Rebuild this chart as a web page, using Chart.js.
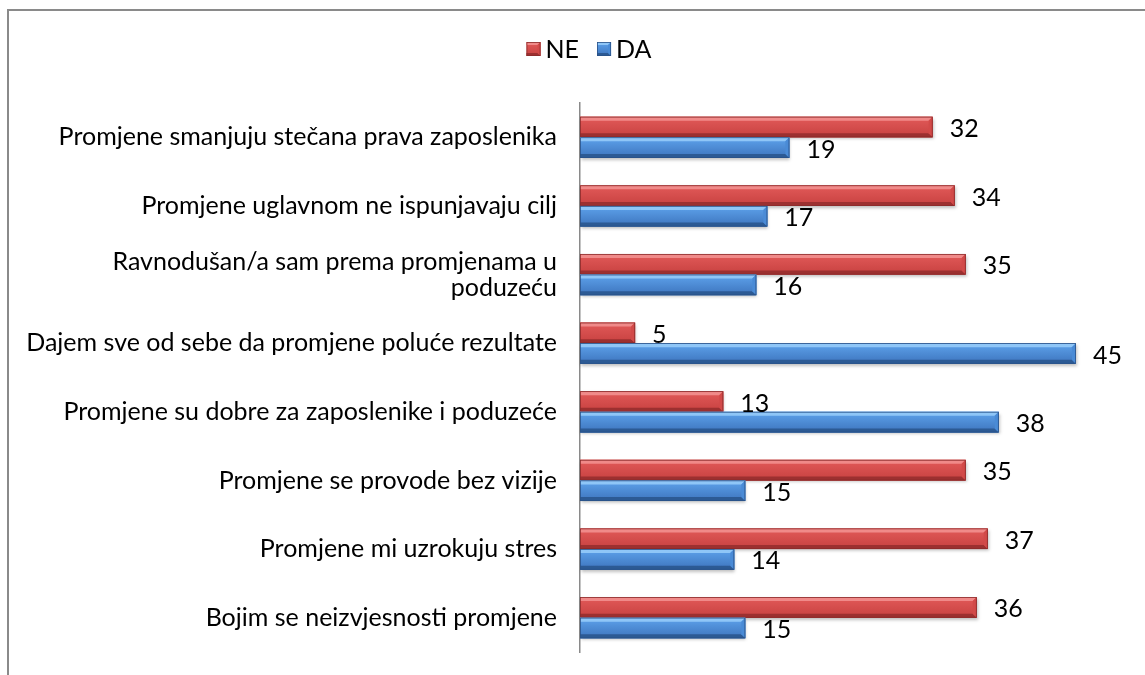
<!DOCTYPE html>
<html>
<head>
<meta charset="utf-8">
<script src="https://cdn.jsdelivr.net/npm/chart.js@4.4.0/dist/chart.umd.min.js"></script>
<style>
  html, body { margin: 0; padding: 0; background: #fff; }
  #wrap { position: relative; width: 1145px; height: 675px; }
  #frame {
    position: absolute; left: 7px; top: 9px; right: 0; bottom: 0;
    border-top: 2px solid #8a8a8a; border-left: 2px solid #8a8a8a;
  }
  canvas { position: absolute; left: 0; top: 0; }
</style>
</head>
<body>
<div id="wrap">
  <div id="frame"></div>
  <canvas id="chart" width="1145" height="675"></canvas>
</div>
<script>
// data
const categories = [
  'Promjene smanjuju stečana prava zaposlenika',
  'Promjene uglavnom ne ispunjavaju cilj',
  ['Ravnodušan/a sam prema promjenama u', 'poduzeću'],
  'Dajem sve od sebe da promjene poluće rezultate',
  'Promjene su dobre za zaposlenike i poduzeće',
  'Promjene se provode bez vizije',
  'Promjene mi uzrokuju stres',
  'Bojim se neizvjesnosti promjene'
];
const seriesNames = ['NE', 'DA'];
const neValues = [32, 34, 35, 5, 13, 35, 37, 36];
const daValues = [19, 17, 16, 45, 38, 15, 14, 15];

const FONT = 'Lato, "Open Sans", sans-serif';
const FONT_SIZE = 25;

const palettes = [
  { base: '#d24a49', hi: '#f08a89', face1: '#e25a59', face2: '#c74140', lo: '#9c3030', edge: '#8a2b2b' },
  { base: '#4a8bd6', hi: '#8fc6f7', face1: '#5ea3ec', face2: '#3d74bd', lo: '#2c5a94', edge: '#2a5288' }
];

function poly(ctx, pts, fill) {
  ctx.beginPath();
  ctx.moveTo(pts[0][0], pts[0][1]);
  for (let i = 1; i < pts.length; i++) ctx.lineTo(pts[i][0], pts[i][1]);
  ctx.closePath();
  ctx.fillStyle = fill;
  ctx.fill();
}

// bevelled box, used for bars and legend swatches
function bevelRect(ctx, left, top, w, h, p, b, shadow) {
  const right = left + w, bot = top + h;
  ctx.save();
  if (shadow) {
    ctx.shadowColor = 'rgba(0,0,0,0.25)';
    ctx.shadowBlur = 3;
    ctx.shadowOffsetX = 1;
    ctx.shadowOffsetY = 2;
  }
  const g = ctx.createLinearGradient(0, top, 0, bot);
  g.addColorStop(0, p.face1);
  g.addColorStop(1, p.face2);
  ctx.fillStyle = g;
  ctx.fillRect(left, top, w, h);
  ctx.restore();

  ctx.save();
  poly(ctx, [[left, top], [right, top], [right - b, top + b], [left, top + b]], p.hi);
  poly(ctx, [[left, bot], [right, bot], [right - b, bot - b], [left, bot - b]], p.lo);
  poly(ctx, [[right, top], [right, bot], [right - b, bot - b], [right - b, top + b]], p.base);
  ctx.strokeStyle = p.edge;
  ctx.lineWidth = 0.8;
  ctx.strokeRect(left + 0.4, top + 0.4, w - 0.8, h - 0.8);
  ctx.restore();
}

const bevelBars = {
  id: 'bevelBars',
  afterDatasetsDraw(chart) {
    const ctx = chart.ctx;
    chart.data.datasets.forEach((ds, i) => {
      const meta = chart.getDatasetMeta(i);
      meta.data.forEach(el => {
        const { x, y, base, height } = el.getProps(['x', 'y', 'base', 'height'], true);
        const left = Math.min(base, x);
        bevelRect(ctx, left, y - height / 2, Math.abs(x - base), height, palettes[i], 4, true);
      });
    });
    // value labels
    ctx.save();
    ctx.font = FONT_SIZE + 'px ' + FONT;
    ctx.fillStyle = '#000';
    ctx.textAlign = 'left';
    ctx.textBaseline = 'middle';
    chart.data.datasets.forEach((ds, i) => {
      const meta = chart.getDatasetMeta(i);
      meta.data.forEach((el, j) => {
        ctx.fillText(String(ds.data[j]), el.x + 17, el.y + 2);
      });
    });
    ctx.restore();
  },
  afterDraw(chart) {
    // legend with bevelled swatches, centred over the plot frame
    const ctx = chart.ctx;
    ctx.save();
    ctx.font = FONT_SIZE + 'px ' + FONT;
    ctx.textBaseline = 'middle';
    ctx.fillStyle = '#000';
    const box = 14, gap = 5, itemGap = 18, cy = 49;
    const widths = seriesNames.map(n => box + gap + ctx.measureText(n).width);
    const total = widths.reduce((a, b) => a + b, 0) + itemGap * (seriesNames.length - 1);
    let x = 589 - total / 2;
    seriesNames.forEach((n, i) => {
      bevelRect(ctx, x, cy - box / 2, box, box, palettes[i], 3, false);
      ctx.fillStyle = '#000';
      ctx.fillText(n, x + box + gap, cy + 1);
      x += widths[i] + itemGap;
    });
    ctx.restore();
  }
};

new Chart(document.getElementById('chart'), {
  type: 'bar',
  data: {
    labels: categories,
    datasets: [
      { label: seriesNames[0], data: neValues, backgroundColor: palettes[0].base },
      { label: seriesNames[1], data: daValues, backgroundColor: palettes[1].base }
    ]
  },
  options: {
    indexAxis: 'y',
    responsive: false,
    animation: false,
    events: [],
    categoryPercentage: 0.6,
    barPercentage: 1.0,
    layout: { padding: { left: 0, right: 14, top: 103, bottom: 23 } },
    plugins: {
      legend: { display: false },
      tooltip: { enabled: false }
    },
    scales: {
      x: {
        min: 0,
        max: 50,
        display: false
      },
      y: {
        afterFit(scale) {
          scale.width = 580;
          scale.paddingTop = 0;
          scale.paddingBottom = 0;
        },
        grid: { display: false, drawTicks: false },
        border: { display: true, color: '#8a8a8a', width: 1.5 },
        ticks: {
          padding: 23,
          color: '#000',
          font: { family: FONT, size: FONT_SIZE, lineHeight: 1.05 }
        }
      }
    }
  },
  plugins: [bevelBars]
});
</script>
</body>
</html>
